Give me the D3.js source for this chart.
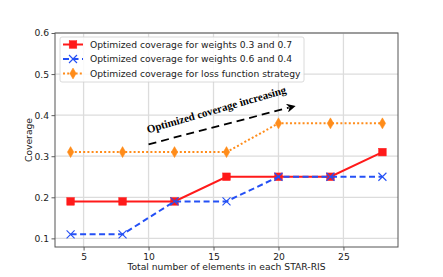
<!DOCTYPE html>
<html>
<head>
<meta charset="utf-8">
<script src="https://cdn.jsdelivr.net/npm/d3@7"></script>
<style>
  body { margin: 0; background: #fff; }
  svg { display: block; font-family: "DejaVu Sans", sans-serif; }
</style>
</head>
<body>
<div id="chart"></div>
<script>
// chart values
const elements = [4, 8, 12, 16, 20, 24, 28];
const weights37 = [0.19, 0.19, 0.19, 0.25, 0.25, 0.25, 0.31];
const weights64 = [0.11, 0.11, 0.19, 0.19, 0.25, 0.25, 0.25];
const lossStrategy = [0.31, 0.31, 0.31, 0.31, 0.38, 0.38, 0.38];
const xTicks = [5, 10, 15, 20, 25];
const yTicks = [0.1, 0.2, 0.3, 0.4, 0.5, 0.6];
const seriesNames = [
  'Optimized coverage for weights 0.3 and 0.7',
  'Optimized coverage for weights 0.6 and 0.4',
  'Optimized coverage for loss function strategy',
];
const arrowFrom = [10, 0.329];
const arrowTo = [21.4, 0.423];
const arrowLabel = 'Optimized coverage increasing';

const width = 443;
const height = 277;
const margin = { top: 33, right: 45, bottom: 30, left: 55 };
const fontSize = '9.2px';

const svg = d3.select('#chart')
  .append('svg')
  .attr('width', width)
  .attr('height', height);

const x = d3.scaleLinear()
  .domain([2.8, 29.2])
  .range([margin.left, width - margin.right]);

const y = d3.scaleLinear()
  .domain([0.079, 0.6])
  .range([height - margin.bottom, margin.top]);

// grid
const grid = svg.append('g');
grid.selectAll('.gx')
  .data(xTicks)
  .enter()
  .append('line')
  .attr('x1', d => x(d)).attr('x2', d => x(d))
  .attr('y1', y.range()[0]).attr('y2', y.range()[1])
  .attr('stroke', '#dcdcdc').attr('stroke-width', 1.3);
grid.selectAll('.gy')
  .data(yTicks)
  .enter()
  .append('line')
  .attr('x1', x.range()[0]).attr('x2', x.range()[1])
  .attr('y1', d => y(d)).attr('y2', d => y(d))
  .attr('stroke', '#dcdcdc').attr('stroke-width', 1.3);

// axes
const xAxis = svg.append('g')
  .attr('transform', `translate(0,${height - margin.bottom})`)
  .call(d3.axisBottom(x).tickValues(xTicks).tickSize(3.5).tickPadding(2.5).tickFormat(d3.format('d')));
const yAxis = svg.append('g')
  .attr('transform', `translate(${margin.left},0)`)
  .call(d3.axisLeft(y).tickValues(yTicks).tickSize(3.5).tickPadding(2.5).tickFormat(d3.format('.1f')));
[xAxis, yAxis].forEach((a) => {
  a.select('.domain').remove();
  a.selectAll('.tick line').attr('stroke', '#333').attr('stroke-width', 0.8);
  a.selectAll('.tick text').attr('fill', '#222').style('font-size', fontSize)
    .style('font-family', '"DejaVu Sans", sans-serif');
});

svg.append('rect')
  .attr('x', x.range()[0])
  .attr('y', y.range()[1])
  .attr('width', x.range()[1] - x.range()[0])
  .attr('height', y.range()[0] - y.range()[1])
  .attr('fill', 'none')
  .attr('stroke', '#555')
  .attr('stroke-width', 1);

svg.append('text')
  .attr('x', (x.range()[0] + x.range()[1]) / 2)
  .attr('y', 270)
  .attr('text-anchor', 'middle')
  .style('font-size', fontSize)
  .attr('fill', '#222')
  .text('Total number of elements in each STAR-RIS');

svg.append('text')
  .attr('transform', `translate(32,${(y.range()[0] + y.range()[1]) / 2}) rotate(-90)`)
  .attr('text-anchor', 'middle')
  .style('font-size', fontSize)
  .attr('fill', '#222')
  .text('Coverage');

// series
const series = [
  { name: seriesNames[0], values: weights37, color: '#ff1a1a', dash: null, marker: 'square' },
  { name: seriesNames[1], values: weights64, color: '#2450f5', dash: '6,3.5', marker: 'x' },
  { name: seriesNames[2], values: lossStrategy, color: '#ff8c1a', dash: '2,2.2', marker: 'diamond' },
];

function drawMarker(g, type, color) {
  if (type === 'square') {
    g.append('rect').attr('x', -3.8).attr('y', -3.8).attr('width', 7.6).attr('height', 7.6)
      .attr('fill', color).attr('stroke', color).attr('stroke-width', 0.5);
  } else if (type === 'x') {
    g.append('path').attr('d', 'M-4,-4L4,4M-4,4L4,-4')
      .attr('stroke', color).attr('stroke-width', 1.1).attr('fill', 'none');
  } else {
    g.append('path').attr('d', 'M0,-5.5L3.2,0L0,5.5L-3.2,0Z')
      .attr('fill', color).attr('stroke', color).attr('stroke-width', 0.5);
  }
}

const line = d3.line()
  .x(d => x(d[0]))
  .y(d => y(d[1]));

series.forEach((s) => {
  const pts = elements.map((e, i) => [e, s.values[i]]);
  const g = svg.append('g');
  g.append('path')
    .datum(pts)
    .attr('d', line)
    .attr('fill', 'none')
    .attr('stroke', s.color)
    .attr('stroke-width', 2)
    .attr('stroke-dasharray', s.dash);
  pts.forEach((p) => {
    const m = g.append('g').attr('transform', `translate(${x(p[0])},${y(p[1])})`);
    drawMarker(m, s.marker, s.color);
  });
});

// arrow annotation
const defs = svg.append('defs');
defs.append('marker')
  .attr('id', 'head')
  .attr('viewBox', '0 0 10 10')
  .attr('refX', 2).attr('refY', 5)
  .attr('markerWidth', 6).attr('markerHeight', 5)
  .attr('markerUnits', 'strokeWidth')
  .attr('orient', 'auto')
  .append('path')
  .attr('d', 'M0,0L10,5L0,10L3,5Z')
  .attr('fill', '#000');

svg.append('line')
  .attr('x1', x(arrowFrom[0])).attr('y1', y(arrowFrom[1]))
  .attr('x2', x(arrowTo[0]) - 8).attr('y2', y(arrowTo[1]) + 2)
  .attr('stroke', '#000')
  .attr('stroke-width', 1.8)
  .attr('stroke-dasharray', '8,5')
  .attr('marker-end', 'url(#head)');

const angle = Math.atan2(y(arrowTo[1]) - y(arrowFrom[1]), x(arrowTo[0]) - x(arrowFrom[0])) * 180 / Math.PI;
svg.append('text')
  .attr('transform', `translate(${x(15.3)},${y(0.405)}) rotate(${angle - 1.5})`)
  .attr('text-anchor', 'middle')
  .style('font-family', '"Liberation Serif", "DejaVu Serif", serif')
  .style('font-weight', 'bold')
  .style('font-size', '11px')
  .attr('fill', '#000')
  .text(arrowLabel);

// legend
const legend = svg.append('g').attr('transform', 'translate(60,37)');
legend.append('rect')
  .attr('width', 244).attr('height', 45)
  .attr('rx', 2)
  .attr('fill', 'rgba(255,255,255,0.85)')
  .attr('stroke', '#d0d0d0').attr('stroke-width', 0.8);
series.forEach((s, i) => {
  const row = legend.append('g').attr('transform', `translate(0,${7.5 + i * 14.5})`);
  row.append('line')
    .attr('x1', 3).attr('x2', 23)
    .attr('stroke', s.color).attr('stroke-width', 2)
    .attr('stroke-dasharray', s.dash);
  drawMarker(row.append('g').attr('transform', 'translate(13,0)'), s.marker, s.color);
  row.append('text')
    .attr('x', 30).attr('dy', '0.35em')
    .style('font-size', fontSize)
    .attr('fill', '#222')
    .text(s.name);
});
</script>
</body>
</html>
